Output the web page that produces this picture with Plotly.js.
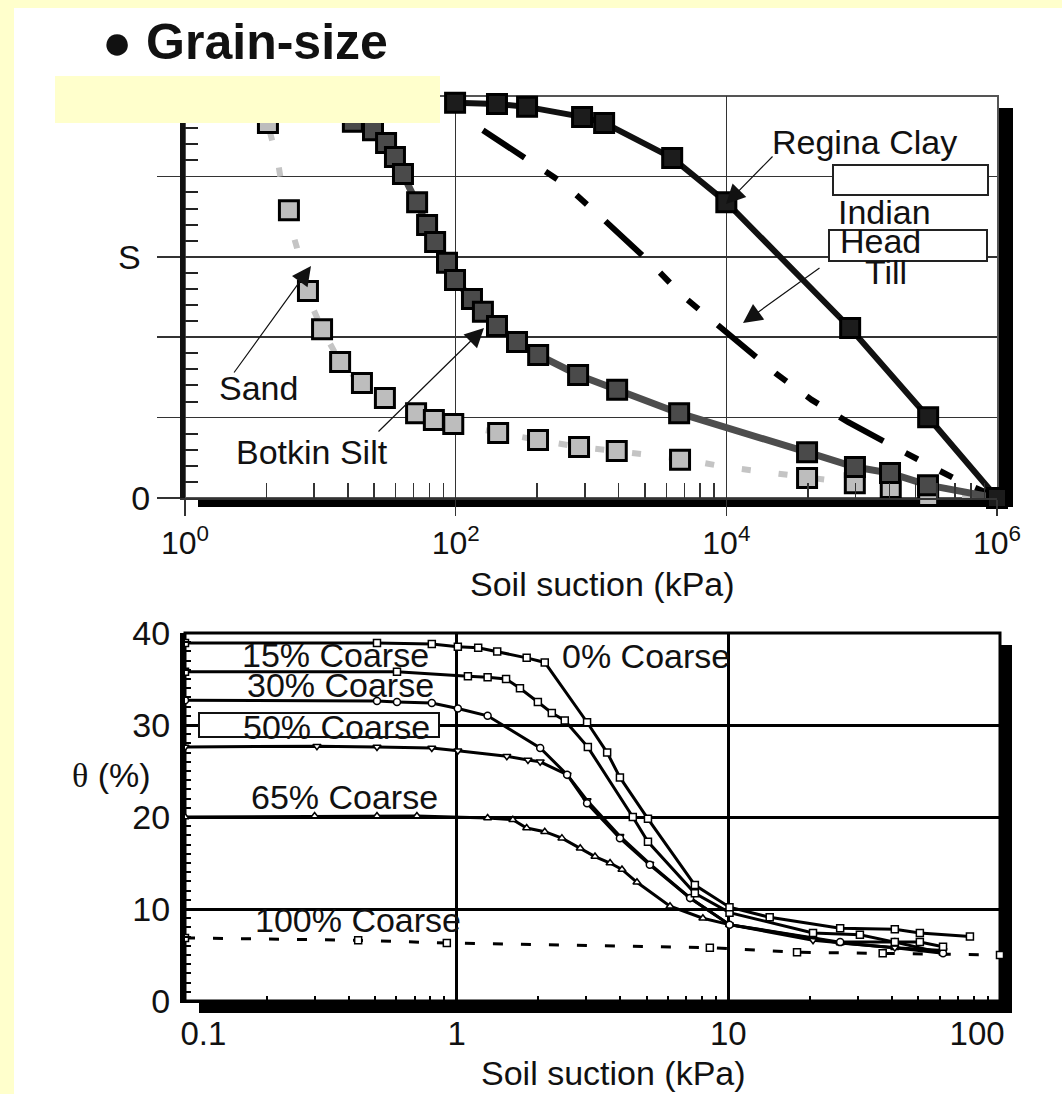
<!DOCTYPE html>
<html><head><meta charset="utf-8">
<script src="https://cdn.plot.ly/plotly-3.0.1.min.js"></script>
<style>html,body{margin:0;padding:0;background:#FFFFCC;overflow:hidden}</style>
</head><body><div id="chart" style="width:1062px;height:1094px"></div>
<script>
// ---------- TOP CHART: degree of saturation vs soil suction ----------
const sandSuction = [4.1, 5.86, 8.1, 10.3, 14, 20.3, 30, 51, 69, 96, 206, 406, 816, 1550, 4550, 39500, 89000, 164000, 310000];
const sandS       = [0.933, 0.716, 0.515, 0.42, 0.338, 0.286, 0.249, 0.211, 0.194, 0.184, 0.162, 0.144, 0.127, 0.117, 0.095, 0.05, 0.037, 0.025, 0.005];
const sandFitSuction = [3.6, 4.86, 5.56, 6.7, 7.7, 10.3, 14, 20, 30, 51, 96, 206, 406, 816, 1550, 4550, 10000, 21600, 39500, 89000, 164000, 310000, 700000];
const sandFitS       = [1.0, 0.836, 0.716, 0.624, 0.517, 0.42, 0.338, 0.286, 0.249, 0.211, 0.184, 0.162, 0.144, 0.127, 0.117, 0.098, 0.077, 0.062, 0.05, 0.037, 0.025, 0.008, 0.0];
const siltSuction = [17.4, 24.5, 30.6, 35.6, 40.8, 51.9, 61.5, 70.5, 86.3, 98.9, 132, 159, 202, 284, 407, 803, 1560, 4480, 39500, 89200, 162000, 309000, 1000000];
const siltS       = [0.936, 0.915, 0.883, 0.848, 0.806, 0.736, 0.679, 0.637, 0.585, 0.542, 0.495, 0.463, 0.428, 0.388, 0.356, 0.306, 0.269, 0.211, 0.114, 0.077, 0.062, 0.032, 0.0];
const tillSuction = [159, 335, 617, 1100, 2850, 4680, 8510, 23600, 42800, 79000, 257000, 507000, 1000000];
const tillS       = [0.915, 0.841, 0.784, 0.709, 0.58, 0.505, 0.433, 0.308, 0.244, 0.189, 0.097, 0.045, 0.002];
const claySuction = [99, 202, 337, 859, 1250, 3980, 10000, 82200, 310000, 1000000];
const clayS       = [0.983, 0.980, 0.973, 0.948, 0.933, 0.846, 0.736, 0.423, 0.201, 0.0];

const topXTickVals = [1, 100, 10000, 1000000];
const topXTickText = ['10<sup>0</sup>', '10<sup>2</sup>', '10<sup>4</sup>', '10<sup>6</sup>'];
const topXMinorTicks = [4, 9, 16, 25, 36, 49, 64, 81, 400, 900, 1600, 2500, 3600, 4900, 6400, 8100,
                        40000, 90000, 160000, 250000, 360000, 490000, 640000, 810000];
const topYTickVals = [0, 0.2, 0.4, 0.6, 0.8, 1];
const topYTickText = ['0', '', '', 'S\u00a0', '', ''];
const topYMinorTicks = [0.04, 0.08, 0.12, 0.16, 0.24, 0.28, 0.32, 0.36, 0.44, 0.48, 0.52, 0.56,
                        0.64, 0.68, 0.72, 0.76, 0.84, 0.88, 0.92, 0.96];

// ---------- BOTTOM CHART: volumetric water content vs soil suction ----------
const c0Suction  = [0.1, 0.509, 0.81, 1.01, 1.2, 1.41, 1.81, 2.11, 3.02, 3.58, 3.99, 5.06, 7.53, 10.1, 14.2, 25.8, 41, 50.7, 77.5];
const c0Theta    = [38.9, 38.9, 38.8, 38.5, 38.4, 38.0, 37.3, 36.8, 30.3, 27.0, 24.3, 19.8, 12.6, 10.2, 9.1, 7.9, 7.8, 7.4, 7.0];
const c15Suction = [0.1, 0.603, 1.1, 1.3, 1.52, 1.71, 1.99, 2.24, 2.5, 3.04, 4.45, 5.06, 7.53, 10.1, 20.5, 30.5, 41, 50.7, 61.7];
const c15Theta   = [35.8, 35.8, 35.3, 35.2, 35.0, 34.0, 32.5, 31.3, 30.5, 27.6, 20.0, 17.3, 11.7, 9.6, 7.4, 7.2, 6.4, 6.4, 5.9];
const c30Suction = [0.1, 0.509, 0.603, 0.81, 1.01, 1.3, 2.03, 2.55, 3.02, 3.99, 5.14, 7.23, 10.1, 25.8, 41, 61.7];
const c30Theta   = [32.7, 32.6, 32.5, 32.4, 31.8, 31.0, 27.5, 24.6, 21.5, 17.7, 14.8, 11.2, 8.3, 6.4, 6.4, 5.2];
const c50Suction = [0.1, 0.306, 0.509, 0.81, 1.01, 1.53, 1.83, 2.03, 2.55, 3.02, 3.99, 5.14, 7.23, 10.1, 20.5, 41, 61.7];
const c50Theta   = [27.6, 27.7, 27.6, 27.5, 27.2, 26.6, 26.2, 26.0, 24.6, 21.8, 17.9, 14.9, 11.2, 8.3, 6.6, 5.8, 5.5];
const c65Suction = [0.1, 0.3, 0.509, 0.714, 1.3, 1.61, 1.81, 2.11, 2.44, 2.85, 3.23, 3.67, 4.06, 4.61, 6.1, 8.06, 10.1, 25.8, 41, 61.7];
const c65Theta   = [20.0, 20.1, 20.1, 20.1, 19.9, 19.7, 18.8, 18.4, 17.7, 16.6, 15.7, 15.0, 14.3, 12.9, 10.3, 9.0, 8.3, 6.3, 5.8, 5.2];
const c100Suction = [0.1, 0.434, 0.92, 8.55, 17.9, 37, 100];
const c100Theta   = [6.85, 6.6, 6.3, 5.8, 5.3, 5.2, 5.0];

const botXTickVals = [0.1, 1, 10, 100];
const botXTickText = ['\u00a0\u00a0\u00a0\u00a00.1', '1', '10', '100\u00a0\u00a0\u00a0\u00a0\u00a0'];
const botXMinorTicks = [0.2, 0.3, 0.4, 0.5, 0.6, 0.7, 0.8, 0.9, 2, 3, 4, 5, 6, 7, 8, 9, 20, 30, 40, 50, 60, 70, 80, 90];
const botYTickVals = [0, 10, 20, 30, 40];
const botYTickText = ['0', '10', '20', '30', '40'];
const botYMinorTicks = [1, 2, 3, 4, 5, 6, 7, 8, 9, 11, 12, 13, 14, 15, 16, 17, 18, 19,
                        21, 22, 23, 24, 25, 26, 27, 28, 29, 31, 32, 33, 34, 35, 36, 37, 38, 39];

// ---------- helpers (pixel -> paper) ----------
const W = 1062, H = 1094;
const X = p => p / W, Y = p => 1 - p / H;
const FONT = 'Liberation Sans, Arial, Helvetica, sans-serif';

function sq(fill) { return {symbol: 'square', size: 19, color: fill, line: {color: '#000', width: 3}}; }
function small(sym) { return {symbol: sym, size: 7, color: '#fff', line: {color: '#000', width: 1.5}}; }

const traces = [
  {x: sandFitSuction, y: sandFitS, xaxis: 'x', yaxis: 'y', mode: 'lines', line: {color: '#c4c4c4', width: 6, dash: '9px,28px'}, cliponaxis: false},
  {x: sandSuction, y: sandS, xaxis: 'x', yaxis: 'y', mode: 'markers', marker: sq('#bdbdbd'), cliponaxis: false},
  {x: tillSuction, y: tillS, xaxis: 'x', yaxis: 'y', mode: 'lines', line: {color: '#000', width: 6, dash: '50px,25px,14px,25px,14px,25px'}, cliponaxis: false},
  {x: siltSuction, y: siltS, xaxis: 'x', yaxis: 'y', mode: 'lines+markers', line: {color: '#4d4d4d', width: 7}, marker: sq('#4a4a4a'), cliponaxis: false},
  {x: claySuction, y: clayS, xaxis: 'x', yaxis: 'y', mode: 'lines+markers', line: {color: '#111', width: 6}, marker: sq('#1c1c1c'), cliponaxis: false},

  {x: c100Suction, y: c100Theta, xaxis: 'x2', yaxis: 'y2', mode: 'lines+markers', line: {color: '#000', width: 3, dash: '10px,18px'}, marker: small('square'), cliponaxis: false},
  {x: c65Suction, y: c65Theta, xaxis: 'x2', yaxis: 'y2', mode: 'lines+markers', line: {color: '#000', width: 3}, marker: small('triangle-up'), cliponaxis: false},
  {x: c50Suction, y: c50Theta, xaxis: 'x2', yaxis: 'y2', mode: 'lines+markers', line: {color: '#000', width: 3}, marker: small('triangle-down'), cliponaxis: false},
  {x: c30Suction, y: c30Theta, xaxis: 'x2', yaxis: 'y2', mode: 'lines+markers', line: {color: '#000', width: 3}, marker: small('circle'), cliponaxis: false},
  {x: c15Suction, y: c15Theta, xaxis: 'x2', yaxis: 'y2', mode: 'lines+markers', line: {color: '#000', width: 3}, marker: small('square'), cliponaxis: false},
  {x: c0Suction, y: c0Theta, xaxis: 'x2', yaxis: 'y2', mode: 'lines+markers', line: {color: '#000', width: 3}, marker: small('square'), cliponaxis: false}
];

function txt(t, cx, cy, size, extra) {
  return Object.assign({xref: 'paper', yref: 'paper', x: X(cx), y: Y(cy), xanchor: 'center', yanchor: 'middle',
    text: t, showarrow: false, font: {family: FONT, size: size || 34, color: '#111'}}, extra || {});
}
function arr(tx, ty, hx, hy) {
  return {xref: 'paper', yref: 'paper', x: X(hx), y: Y(hy), ax: tx - hx, ay: ty - hy, axref: 'pixel', ayref: 'pixel',
    text: '', showarrow: true, arrowhead: 2, arrowsize: 3.2, arrowwidth: 1.2, arrowcolor: '#111', standoff: 0, startstandoff: 0};
}
function rect(x0, y0, x1, y1, fill, line, layer) {
  return {type: 'rect', xref: 'paper', yref: 'paper', x0: X(x0), x1: X(x1), y0: Y(y1), y1: Y(y0),
    fillcolor: fill, line: line || {width: 0}, layer: layer || 'below'};
}

const layout = {
  width: W, height: H, margin: {l: 0, r: 0, t: 0, b: 0}, autosize: false,
  paper_bgcolor: '#FFFFCC', plot_bgcolor: 'rgba(0,0,0,0)', showlegend: false,
  font: {family: FONT, size: 34, color: '#111'},
  xaxis: {type: 'log', domain: [X(185), X(997)], range: [0, 6], anchor: 'y',
    tickmode: 'array', tickvals: topXTickVals, ticktext: topXTickText,
    ticks: 'outside', ticklen: 16, tickwidth: 1.5, tickcolor: '#333', ticklabelstandoff: 0,
    showgrid: true, gridcolor: '#333', gridwidth: 1.5, showline: true, linecolor: '#333', linewidth: 2, zeroline: false,
    minor: {tickmode: 'array', tickvals: topXMinorTicks, ticks: 'inside', ticklen: 15, tickwidth: 1.5, tickcolor: '#333', showgrid: false},
    tickfont: {family: FONT, size: 32, color: '#111'}},
  yaxis: {domain: [Y(498), Y(96)], range: [0, 1], anchor: 'x',
    tickmode: 'array', tickvals: topYTickVals, ticktext: topYTickText,
    ticks: 'outside', ticklen: 23, tickwidth: 1.5, tickcolor: '#333', ticklabelstandoff: 0,
    showgrid: true, gridcolor: '#333', gridwidth: 1.5, showline: true, linecolor: '#111', linewidth: 5, zeroline: false,
    minor: {tickmode: 'array', tickvals: topYMinorTicks, ticks: 'inside', ticklen: 13, tickwidth: 2, tickcolor: '#222', showgrid: false},
    tickfont: {family: FONT, size: 34, color: '#111'}},
  xaxis2: {type: 'log', domain: [X(185), X(1000)], range: [-1, 2], anchor: 'y2',
    tickmode: 'array', tickvals: botXTickVals, ticktext: botXTickText,
    ticks: '', ticklabelstandoff: 2,
    showgrid: true, gridcolor: '#000', gridwidth: 3, showline: true, linecolor: '#000', linewidth: 2, zeroline: false,
    minor: {tickmode: 'array', tickvals: botXMinorTicks, ticks: 'inside', ticklen: 5, tickwidth: 2, tickcolor: '#000', showgrid: false},
    tickfont: {family: FONT, size: 33, color: '#111'}},
  yaxis2: {domain: [Y(1001), Y(633)], range: [0, 40], anchor: 'x2',
    tickmode: 'array', tickvals: botYTickVals, ticktext: botYTickText,
    ticks: '', ticklabelstandoff: 3,
    showgrid: true, gridcolor: '#000', gridwidth: 3, showline: true, linecolor: '#000', linewidth: 5, zeroline: false,
    minor: {tickmode: 'array', tickvals: botYMinorTicks, ticks: 'inside', ticklen: 6, tickwidth: 2, tickcolor: '#000', showgrid: false},
    tickfont: {family: FONT, size: 34, color: '#111'}},
  shapes: [
    rect(14, 8, 1062, 1094, '#ffffff'),
    rect(198, 108, 1013, 507, '#000000'),
    rect(185, 96, 998, 498, '#ffffff', {color: '#555', width: 2}),
    rect(199, 645, 1012, 1013, '#000000'),
    rect(185, 633, 1000, 1001, '#ffffff', {color: '#000', width: 3}),
    rect(833, 165, 988, 195, '#ffffff', {color: '#222', width: 2}, 'above'),
    rect(829, 230, 987, 261, '#ffffff', {color: '#222', width: 2}, 'above'),
    rect(199, 713, 439, 737, '#ffffff', {color: '#111', width: 2}, 'above'),
    rect(55, 76, 440, 123, '#FFFFCC', {width: 0}, 'above')
  ],
  annotations: [
    txt('<b>\u25CF Grain-size</b>', 245, 42, 50),
    txt('Regina Clay', 864, 142),
    txt('Indian', 884, 212),
    txt('Head', 880, 241),
    txt('Till', 886, 272),
    txt('Sand', 258, 388),
    txt('Botkin Silt', 312, 452),
    txt('Soil suction (kPa)', 602, 584),
    arr(774, 155, 726, 204),
    arr(821, 267, 743, 323),
    arr(233, 374, 311, 266),
    arr(377, 433, 484, 328),
    txt('15% Coarse', 335, 655),
    txt('30% Coarse', 340, 685),
    txt('50% Coarse', 336, 727),
    txt('65% Coarse', 344, 797),
    txt('0% Coarse', 646, 656),
    txt('100% Coarse', 358, 920),
    txt('<span style="font-family:Liberation Serif">\u03B8</span> (%)', 111, 775),
    txt('Soil suction (kPa)', 613, 1073)
  ]
};

Plotly.newPlot('chart', traces, layout, {displayModeBar: false, staticPlot: true});
</script></body></html>
